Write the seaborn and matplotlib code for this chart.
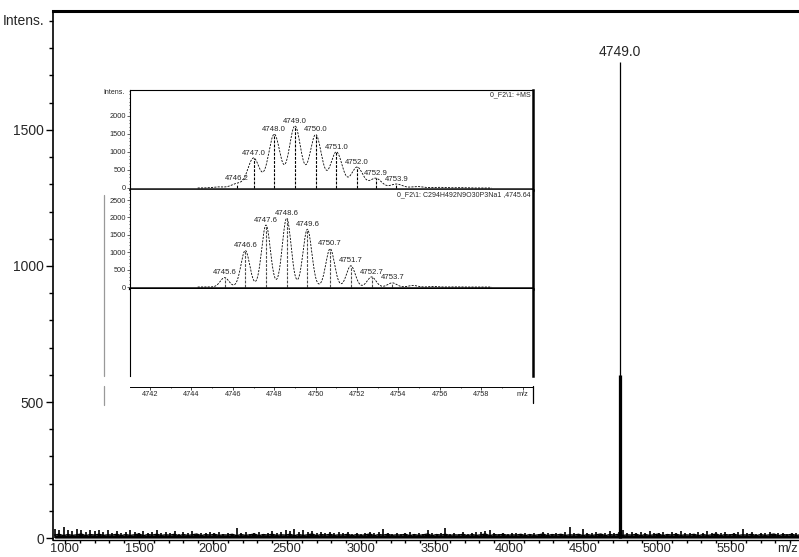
import numpy as np
import pandas as pd
import seaborn as sns
import matplotlib.pyplot as plt
from matplotlib.lines import Line2D
from matplotlib.ticker import MultipleLocator

# ---- main spectrum data ----
noise_start, noise_step = 930, 30
noise_int = [
    35, 28, 40, 30, 26, 33, 29, 24, 31, 27, 30, 22, 28,
    20, 26, 18, 24, 30, 21, 19, 25, 17, 22, 28, 20, 23,
    18, 25, 16, 21, 19, 27, 15, 20, 18, 24, 17, 22, 16,
    19, 14, 38, 17, 21, 15, 18, 23, 16, 20, 25, 18, 22,
    30, 27, 33, 24, 28, 22, 26, 20, 24, 19, 23, 17, 21,
    18, 22, 16, 20, 15, 19, 24, 17, 21, 35, 18, 16, 20,
    15, 19, 22, 14, 18, 16, 30, 17, 15, 20, 38, 14, 18,
    16, 21, 15, 19, 24, 22, 27, 30, 18, 15, 20, 16, 19,
    17, 14, 20, 16, 18, 15, 21, 17, 14, 19, 16, 22, 40,
    18, 15, 35, 20, 17, 22, 16, 19, 25, 18, 21, 28, 20,
    24, 19, 22, 17, 26, 20, 18, 23, 16, 21, 19, 25, 18,
    20, 16, 22, 18, 27, 19, 24, 17, 21, 15, 19, 23, 32,
    18, 21, 16, 20, 17, 22, 15, 19, 18, 16, 20, 17, 19,
]
noise_floor = [11, 14, 9, 13, 10, 12, 15, 9, 13, 11, 14, 10, 12]
noise_mz = noise_start + noise_step * np.arange(len(noise_int))

main_peak_mz = [4744, 4749, 4754]
main_peak_int = [600, 1750, 600]
main_label = "4749.0"

# ---- inset: measured isotope pattern ----
meas_mz = [4745.3, 4746.2, 4747.0, 4748.0, 4749.0, 4750.0, 4751.0, 4752.0,
           4752.9, 4753.9, 4754.9, 4755.9, 4756.9]
meas_int = [30, 120, 830, 1490, 1720, 1480, 1000, 580, 270, 110, 40, 20, 10]
meas_labels = ["4746.2", "4747.0", "4748.0", "4749.0", "4750.0", "4751.0",
               "4752.0", "4752.9", "4753.9"]

# ---- inset: simulated isotope pattern ----
sim_mz = [4745.6, 4746.6, 4747.6, 4748.6, 4749.6, 4750.7, 4751.7, 4752.7,
          4753.7, 4754.7, 4755.7, 4756.7]
sim_int = [270, 1050, 1780, 1980, 1660, 1100, 610, 290, 120, 45, 15, 5]
sim_labels = ["4745.6", "4746.6", "4747.6", "4748.6", "4749.6", "4750.7",
              "4751.7", "4752.7", "4753.7"]

meas_title = "0_F2\\1: +MS"
sim_title = "0_F2\\1: C294H492N9O30P3Na1 ,4745.64"


def profile(centers, heights, width, grid):
    y = np.zeros_like(grid)
    for c, h in zip(centers, heights):
        y += h * np.exp(-(grid - c) ** 2 / (2 * width ** 2))
    return y


sns.set_theme(style="ticks")
plt.rcParams["font.family"] = ["Liberation Sans", "DejaVu Sans"]

W, H = 799, 557
fig = plt.figure(figsize=(W / 100, H / 100), dpi=100)


def px_axes(x0, y0, x1, y1):
    return fig.add_axes([x0 / W, 1 - y1 / H, (x1 - x0) / W, (y1 - y0) / H])


# ---------------- main axes ----------------
ax = px_axes(53, 11, 799, 540)
ax.set_xlim(919, 5959)
ax.set_ylim(-7, 1937)

floor = np.resize(noise_floor, len(noise_int))
ax.fill_between(noise_mz, 0, floor, color="black", lw=0)
ax.vlines(noise_mz, 0, noise_int, color="black", lw=1.2)
noise_df = pd.DataFrame({"mz": noise_mz, "int": floor})
sns.lineplot(data=noise_df, x="mz", y="int", ax=ax, color="black", lw=1.0)
ax.vlines(main_peak_mz, 0, main_peak_int, color="black", lw=0.9)
ax.text(main_peak_mz[1], max(main_peak_int) + 12, main_label, ha="center",
        va="bottom", fontsize=10)

ax.set_xticks([1000, 1500, 2000, 2500, 3000, 3500, 4000, 4500, 5000, 5500])
ax.xaxis.set_minor_locator(MultipleLocator(100))
ax.set_yticks([0, 500, 1000, 1500])
ax.yaxis.set_minor_locator(MultipleLocator(100))
ax.tick_params(which="major", direction="out", length=5, width=1,
               labelsize=10, pad=1.5, color="black")
ax.tick_params(which="minor", direction="out", length=3, width=1, color="black")
ax.tick_params(axis="x", which="major", length=3, pad=-0.5, labelsize=9.3)
ax.tick_params(axis="x", which="minor", length=2)
ax.set_xlabel("")
ax.set_ylabel("")
ax.spines["top"].set_linewidth(2.2)
ax.spines["left"].set_linewidth(1.2)
ax.spines["bottom"].set_linewidth(1.0)
ax.spines["right"].set_visible(False)
for s in ax.spines.values():
    s.set_color("black")
ax.text(0.999, -0.006, "m/z", ha="right", va="top", fontsize=9.3,
        transform=ax.transAxes, clip_on=False)

ax.text(-0.012, 1900, "Intens.", transform=ax.get_yaxis_transform(),
        ha="right", va="center", fontsize=10)

# ---------------- inset ----------------
IX0, IX1 = 130, 533
xlim_in = (4741.03, 4760.5)
grid = np.linspace(4744.3, 4758.5, 1500)

ax_u = px_axes(IX0, 90, IX1, 190)
ax_l = px_axes(IX0, 190, IX1, 289)
ax_b = px_axes(IX0, 289, IX1, 376)
ax_x = px_axes(IX0, 383, IX1, 387)

panels = [
    (ax_u, meas_mz, meas_int, meas_labels, 0.28, (-56, 2722), [0, 500, 1000, 1500, 2000], meas_title, "black"),
    (ax_l, sim_mz, sim_int, sim_labels, 0.21, (-57, 2788), [0, 500, 1000, 1500, 2000, 2500], sim_title, "0.3"),
]
for a, mz, inten, labs, wd, yl, yt, title, stick_c in panels:
    a.set_facecolor("white")
    a.set_xlim(*xlim_in)
    a.set_ylim(*yl)
    prof = pd.DataFrame({"mz": grid, "int": profile(mz, inten, wd, grid)})
    sns.lineplot(data=prof, x="mz", y="int", ax=a, color="black", lw=0.6,
                 linestyle=(0, (2.5, 1.5)))
    n = len(labs)
    first = 1 if a is ax_u else 0
    for m, h, lab in zip(mz[first:first + n], inten[first:first + n], labs):
        a.vlines(m, 0, h, color=stick_c, lw=0.8, linestyles=(0, (2.5, 1.2)))
        a.text(m, h + 40, lab, ha="center", va="bottom", fontsize=5.6)
    a.axhline(0, color="black", lw=0.5)
    a.set_xticks([])
    a.set_yticks(yt)
    a.yaxis.set_minor_locator(MultipleLocator(100))
    a.tick_params(axis="y", which="major", direction="out", length=2,
                  width=0.5, labelsize=5.3, pad=0.8)
    a.tick_params(axis="y", which="minor", direction="out", length=1,
                  width=0.5)
    a.set_xlabel("")
    a.set_ylabel("")
    for s in a.spines.values():
        s.set_color("black")
        s.set_linewidth(0.8)
    a.spines["right"].set_linewidth(1.8)
    a.text(0.995, 0.985, title, transform=a.transAxes, ha="right", va="top",
           fontsize=5.0)

ax_u.spines["bottom"].set_linewidth(1.2)
ax_l.spines["top"].set_visible(False)
ax_l.spines["bottom"].set_linewidth(1.6)
ax_u.text(-0.012, 0.975, "Intens.", transform=ax_u.transAxes, ha="right",
          va="center", fontsize=5.0)

ax_b.set_facecolor("white")
ax_b.set_xticks([])
ax_b.set_yticks([])
for side in ["top", "bottom"]:
    ax_b.spines[side].set_visible(False)
ax_b.spines["left"].set_color("black")
ax_b.spines["left"].set_linewidth(0.8)
ax_b.spines["right"].set_color("black")
ax_b.spines["right"].set_linewidth(1.8)

ax_x.set_facecolor("none")
ax_x.set_xlim(*xlim_in)
ax_x.set_yticks([])
for side in ["top", "left", "right"]:
    ax_x.spines[side].set_visible(False)
ax_x.spines["bottom"].set_color("black")
ax_x.spines["bottom"].set_linewidth(0.7)
ax_x.set_xticks(list(range(4742, 4761, 2)))
ax_x.set_xticklabels([str(v) for v in range(4742, 4760, 2)] + ["m/z"])
ax_x.xaxis.set_minor_locator(MultipleLocator(1))
ax_x.tick_params(axis="x", which="major", direction="out", length=1.8,
                 width=0.5, labelsize=5.3, pad=1.2, color="black")
ax_x.tick_params(axis="x", which="minor", direction="out", length=1,
                 width=0.5, color="black")

# inset frame pieces
fig.add_artist(Line2D([IX1 / W, IX1 / W], [1 - 386 / H, 1 - 403 / H],
                      color="black", lw=0.9))
fig.add_artist(Line2D([104 / W, 104 / W], [1 - 195 / H, 1 - 376 / H],
                      color="0.6", lw=0.9))
fig.add_artist(Line2D([104 / W, 104 / W], [1 - 386 / H, 1 - 405 / H],
                      color="0.6", lw=0.9))

fig.savefig("out.png", dpi=100)
